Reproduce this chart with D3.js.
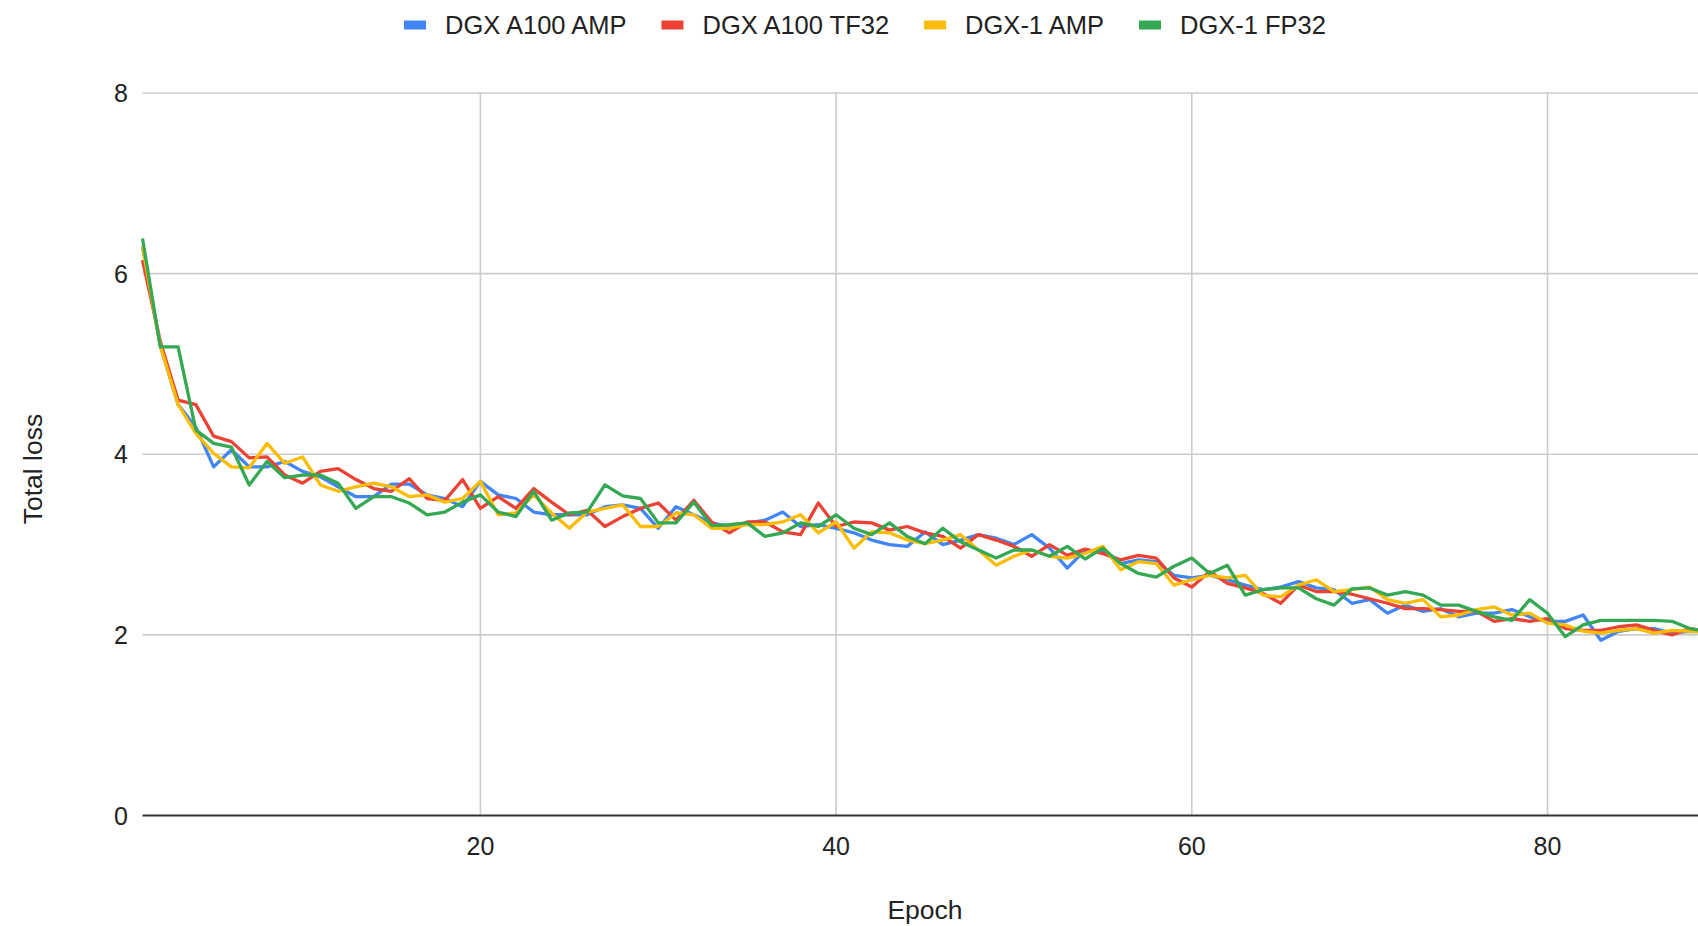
<!DOCTYPE html>
<html>
<head>
<meta charset="utf-8">
<script src="https://cdn.jsdelivr.net/npm/d3@7"></script>
<style>
  body { margin: 0; background: #fff; }
  text { font-family: "Liberation Sans", Arial, sans-serif; fill: #222; }
</style>
</head>
<body>
<div id="chart"></div>
<script>
// series names and colours
let seriesNames = ["DGX A100 AMP", "DGX A100 TF32", "DGX-1 AMP", "DGX-1 FP32"];
let seriesColors = ["#4285f4", "#ea4335", "#fbbc04", "#34a853"];

// epochs 1..89 (the rest of the chart is cut off on the right)
let epochs = d3.range(1, 90);

let a100Amp = [6.3, 5.2, 4.55, 4.3, 3.86, 4.05, 3.86, 3.86, 3.92, 3.81,
    3.75, 3.64, 3.53, 3.53, 3.67, 3.67, 3.55, 3.51, 3.42, 3.7,
    3.55, 3.51, 3.36, 3.33, 3.33, 3.33, 3.42, 3.44, 3.4, 3.18,
    3.42, 3.33, 3.24, 3.2, 3.24, 3.27, 3.36, 3.2, 3.22, 3.18,
    3.13, 3.05, 3.0, 2.98, 3.14, 3.0, 3.05, 3.11, 3.07, 3.0,
    3.11, 2.96, 2.74, 2.94, 2.92, 2.79, 2.83, 2.81, 2.66, 2.63,
    2.66, 2.61, 2.55, 2.5, 2.53, 2.59, 2.52, 2.5, 2.35, 2.39,
    2.24, 2.33, 2.26, 2.29, 2.2, 2.24, 2.24, 2.28, 2.2, 2.15,
    2.15, 2.22, 1.94, 2.04, 2.07, 2.07, 2.02, 2.04, 2.03];

let a100Tf32 = [6.15, 5.25, 4.6, 4.55, 4.2, 4.14, 3.96, 3.97, 3.77, 3.68,
    3.81, 3.84, 3.72, 3.62, 3.59, 3.73, 3.51, 3.49, 3.72, 3.4,
    3.53, 3.4, 3.62, 3.47, 3.33, 3.38, 3.2, 3.31, 3.4, 3.46,
    3.27, 3.49, 3.25, 3.13, 3.25, 3.25, 3.14, 3.11, 3.46, 3.2,
    3.25, 3.24, 3.16, 3.2, 3.13, 3.09, 2.96, 3.11, 3.05, 2.98,
    2.87, 3.0, 2.88, 2.95, 2.9, 2.83, 2.88, 2.85, 2.63, 2.53,
    2.7, 2.57, 2.52, 2.46, 2.35, 2.55, 2.48, 2.48, 2.45, 2.4,
    2.35, 2.29, 2.29, 2.28, 2.26, 2.26, 2.15, 2.18, 2.15, 2.18,
    2.07, 2.05, 2.05, 2.09, 2.11, 2.05, 2.0, 2.07, 2.04];

let dgx1Amp = [6.3, 5.2, 4.55, 4.23, 4.01, 3.86, 3.85, 4.12, 3.9, 3.97,
    3.66, 3.59, 3.64, 3.68, 3.64, 3.53, 3.55, 3.47, 3.51, 3.7,
    3.33, 3.35, 3.55, 3.35, 3.18, 3.36, 3.4, 3.44, 3.2, 3.2,
    3.35, 3.33, 3.18, 3.18, 3.22, 3.22, 3.25, 3.33, 3.13, 3.25,
    2.96, 3.14, 3.13, 3.05, 3.01, 3.05, 3.11, 2.94, 2.77, 2.87,
    2.94, 2.87, 2.85, 2.9, 2.98, 2.72, 2.81, 2.79, 2.55, 2.61,
    2.66, 2.63, 2.66, 2.44, 2.42, 2.55, 2.61, 2.48, 2.5, 2.53,
    2.39, 2.35, 2.39, 2.2, 2.22, 2.28, 2.31, 2.22, 2.24, 2.13,
    2.11, 2.04, 2.02, 2.05, 2.07, 2.02, 2.05, 2.04, 2.03];

let dgx1Fp32 = [6.39, 5.19, 5.19, 4.27, 4.12, 4.08, 3.66, 3.92, 3.74, 3.77,
    3.77, 3.68, 3.4, 3.53, 3.53, 3.46, 3.33, 3.36, 3.47, 3.55,
    3.36, 3.31, 3.59, 3.27, 3.35, 3.36, 3.66, 3.54, 3.51, 3.24,
    3.24, 3.47, 3.21, 3.22, 3.24, 3.09, 3.13, 3.24, 3.2, 3.33,
    3.18, 3.11, 3.24, 3.09, 3.01, 3.18, 3.03, 2.94, 2.85, 2.94,
    2.94, 2.87, 2.98, 2.84, 2.96, 2.79, 2.68, 2.64, 2.76, 2.85,
    2.68, 2.77, 2.44, 2.5, 2.52, 2.52, 2.4, 2.33, 2.51, 2.52,
    2.44, 2.48, 2.44, 2.33, 2.33, 2.26, 2.2, 2.16, 2.39, 2.24,
    1.98, 2.11, 2.16, 2.16, 2.16, 2.16, 2.15, 2.07, 2.04];

let xTicks = [20, 40, 60, 80];
let yTicks = [0, 2, 4, 6, 8];

let allSeries = [a100Amp, a100Tf32, dgx1Amp, dgx1Fp32];

let svgWidth = 1698;
let svgHeight = 926;

// plot area; the full chart ran to epoch 100 and is cropped at the right edge
let plotLeft = 142.5;
let plotTop = 93;
let plotBottom = 815.5;
let epochStep = 17.785;

let svg = d3.select("#chart")
    .append("svg")
    .attr("width", svgWidth)
    .attr("height", svgHeight);

let xScale = d3.scaleLinear()
    .domain([1, 100])
    .range([plotLeft, plotLeft + 99 * epochStep]);

let yScale = d3.scaleLinear()
    .domain([0, 8])
    .range([plotBottom, plotTop]);

// horizontal gridlines
svg.append("g")
    .selectAll("line")
    .data(yTicks.filter(d => d !== 0))
    .enter()
    .append("line")
    .attr("x1", plotLeft)
    .attr("x2", svgWidth)
    .attr("y1", d => yScale(d))
    .attr("y2", d => yScale(d))
    .attr("stroke", "#cccccc")
    .attr("stroke-width", 1.6);

// vertical gridlines
svg.append("g")
    .selectAll("line")
    .data(xTicks)
    .enter()
    .append("line")
    .attr("x1", d => xScale(d))
    .attr("x2", d => xScale(d))
    .attr("y1", plotTop)
    .attr("y2", plotBottom)
    .attr("stroke", "#cccccc")
    .attr("stroke-width", 1.6);

// baseline at 0
svg.append("line")
    .attr("x1", plotLeft)
    .attr("x2", svgWidth)
    .attr("y1", yScale(0))
    .attr("y2", yScale(0))
    .attr("stroke", "#333333")
    .attr("stroke-width", 2);

// tick labels
svg.append("g")
    .selectAll("text")
    .data(yTicks)
    .enter()
    .append("text")
    .attr("x", 128)
    .attr("y", d => yScale(d))
    .attr("dy", "0.36em")
    .attr("text-anchor", "end")
    .attr("font-size", 25)
    .text(d => d);

svg.append("g")
    .selectAll("text")
    .data(xTicks)
    .enter()
    .append("text")
    .attr("x", d => xScale(d))
    .attr("y", 846)
    .attr("dy", "0.36em")
    .attr("text-anchor", "middle")
    .attr("font-size", 25)
    .text(d => d);

// series lines
let line = d3.line()
    .x((d, i) => xScale(epochs[i]))
    .y(d => yScale(d));

svg.append("g")
    .selectAll("path")
    .data(allSeries)
    .enter()
    .append("path")
    .attr("d", d => line(d))
    .attr("fill", "none")
    .attr("stroke", (d, i) => seriesColors[i])
    .attr("stroke-width", 3.3)
    .attr("stroke-linejoin", "round");

// axis titles
svg.append("text")
    .attr("x", 925)
    .attr("y", 909)
    .attr("dy", "0.36em")
    .attr("text-anchor", "middle")
    .attr("font-size", 26.5)
    .text("Epoch");

svg.append("text")
    .attr("transform", "translate(32.5, 469) rotate(-90)")
    .attr("dy", "0.36em")
    .attr("text-anchor", "middle")
    .attr("font-size", 26.5)
    .text("Total loss");

// legend, laid out from measured text widths and centred
let legend = svg.append("g");
let items = seriesNames.map((name, i) => {
    let g = legend.append("g");
    g.append("rect")
        .attr("width", 22)
        .attr("height", 9)
        .attr("y", -4.5)
        .attr("fill", seriesColors[i]);
    let t = g.append("text")
        .attr("x", 41)
        .attr("dy", "0.36em")
        .attr("font-size", 25.5)
        .text(name);
    return { g: g, w: 41 + t.node().getComputedTextLength() };
});

let gap = 35;
let total = d3.sum(items, d => d.w) + gap * (items.length - 1);
let cursor = 865 - total / 2;
items.forEach(d => {
    d.g.attr("transform", `translate(${cursor}, 25)`);
    cursor += d.w + gap;
});
</script>
</body>
</html>
